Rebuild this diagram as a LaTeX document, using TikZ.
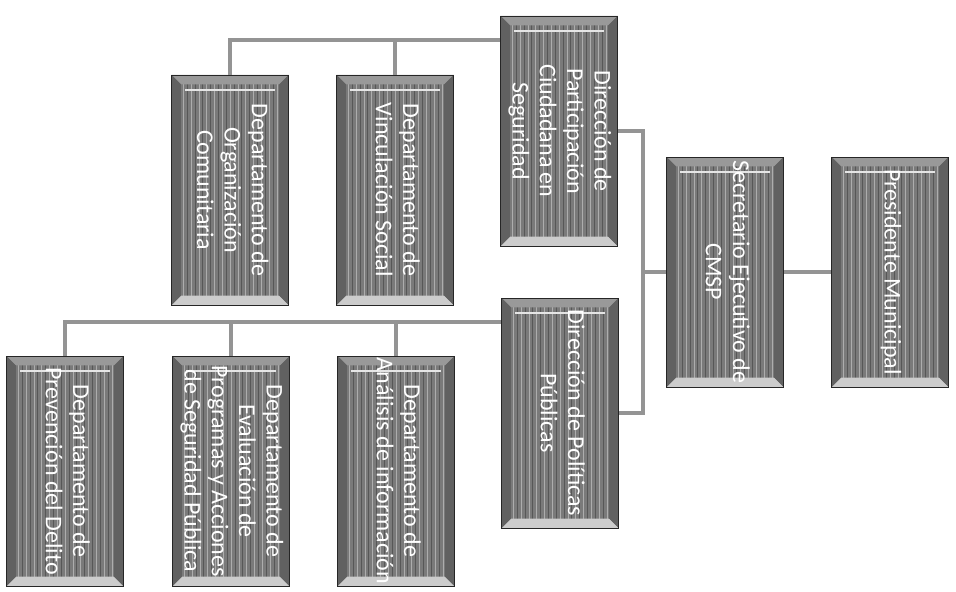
\documentclass[tikz,border=0pt]{standalone}
\usepackage{fontspec}
\setmainfont{Carlito}
\usepackage{graphicx}
\usetikzlibrary{calc}

% texto girado dentro de cada caja
\newcommand{\cajatexto}[1]{\rotatebox{-90}{\begin{tabular}{@{}c@{}}#1\end{tabular}}}

\tikzset{
  caja/.style={draw=black!85, fill=black!52, line width=0.6pt,
    minimum width=87.75pt, minimum height=172.5pt, inner sep=0pt,
    text=white, font=\fontsize{18}{20.5}\selectfont,
    path picture={
      % rayas verticales
      \foreach \k in {1,...,14} {
        \draw[black!66, line width=0.4pt] ([shift={(\k*5.85pt,7pt)}]path picture bounding box.south west) -- ([shift={(\k*5.85pt,-7pt)}]path picture bounding box.north west);
        \draw[black!32, line width=0.3pt] ([shift={(\k*5.85pt-2.9pt,7pt)}]path picture bounding box.south west) -- ([shift={(\k*5.85pt-2.9pt,-7pt)}]path picture bounding box.north west);
      }
      % biseles
      \fill[black!40] (path picture bounding box.north west) -- (path picture bounding box.north east) -- ([shift={(-7pt,-7pt)}]path picture bounding box.north east) -- ([shift={(7pt,-7pt)}]path picture bounding box.north west) -- cycle;
      \fill[black!20] (path picture bounding box.south west) -- (path picture bounding box.south east) -- ([shift={(-7pt,7pt)}]path picture bounding box.south east) -- ([shift={(7pt,7pt)}]path picture bounding box.south west) -- cycle;
      \fill[black!62] (path picture bounding box.north west) -- ([shift={(7pt,-7pt)}]path picture bounding box.north west) -- ([shift={(7pt,7pt)}]path picture bounding box.south west) -- (path picture bounding box.south west) -- cycle;
      \fill[black!62] (path picture bounding box.north east) -- ([shift={(-7pt,-7pt)}]path picture bounding box.north east) -- ([shift={(-7pt,7pt)}]path picture bounding box.south east) -- (path picture bounding box.south east) -- cycle;
      \draw[black!10, line width=1.4pt] ([shift={(10pt,-11pt)}]path picture bounding box.north west) -- ([shift={(-10pt,-11pt)}]path picture bounding box.north east);
    }},
  conector/.style={draw=black!42, line width=3pt}
}

\begin{document}
\begin{tikzpicture}[x=0.75pt, y=-0.75pt]

    \fill[white] (0,0) rectangle (956,592);
    \useasboundingbox (0,0) rectangle (956,592);

    % -------------------------------
    % nivel superior
    % -------------------------------
    \node[caja] (pres) at (890,272) {\cajatexto{Presidente Municipal}};
    \node[caja] (secr) at (725,272) {\cajatexto{Secretario Ejecutivo de\\CMSP}};

    % -------------------------------
    % direcciones
    % -------------------------------
    \node[caja] (dpc) at (559,131) {\cajatexto{Dirección de\\Participación\\Ciudadana en\\Seguridad}};
    \node[caja] (dpp) at (560,413) {\cajatexto{Dirección de Políticas\\Públicas}};

    % -------------------------------
    % departamentos
    % -------------------------------
    \node[caja] (org) at (230,190) {\cajatexto{Departamento de\\Organización\\Comunitaria}};
    \node[caja] (vin) at (395,190) {\cajatexto{Departamento de\\Vinculación Social}};

    \node[caja] (ana) at (396,471) {\cajatexto{Departamento de\\Análisis de información}};
    \node[caja] (eva) at (231,471) {\cajatexto{Departamento de\\Evaluación de\\Programas y Acciones\\de Seguridad Pública}};
    \node[caja] (pre) at (65,471) {\cajatexto{Departamento de\\Prevención del Delito}};

    % -------------------------------
    % conectores
    % -------------------------------
    \coordinate (bus) at (643,272);
    \coordinate (supbus) at ($(dpc.north west)+(0,24)$);
    \coordinate (infbus) at ($(dpp.north west)+(0,24)$);

    \draw[conector] (pres.west) -- (secr.east);
    \draw[conector] (secr.west) -- (bus);
    \draw[conector] (dpc.east) -| (bus) |- (dpp.east);

    \draw[conector] (org.north) |- (supbus);
    \draw[conector] (vin.north) -- (vin.north |- supbus);

    \draw[conector] (pre.north) |- (infbus);
    \draw[conector] (eva.north) -- (eva.north |- infbus);
    \draw[conector] (ana.north) -- (ana.north |- infbus);

\end{tikzpicture}
\end{document}
